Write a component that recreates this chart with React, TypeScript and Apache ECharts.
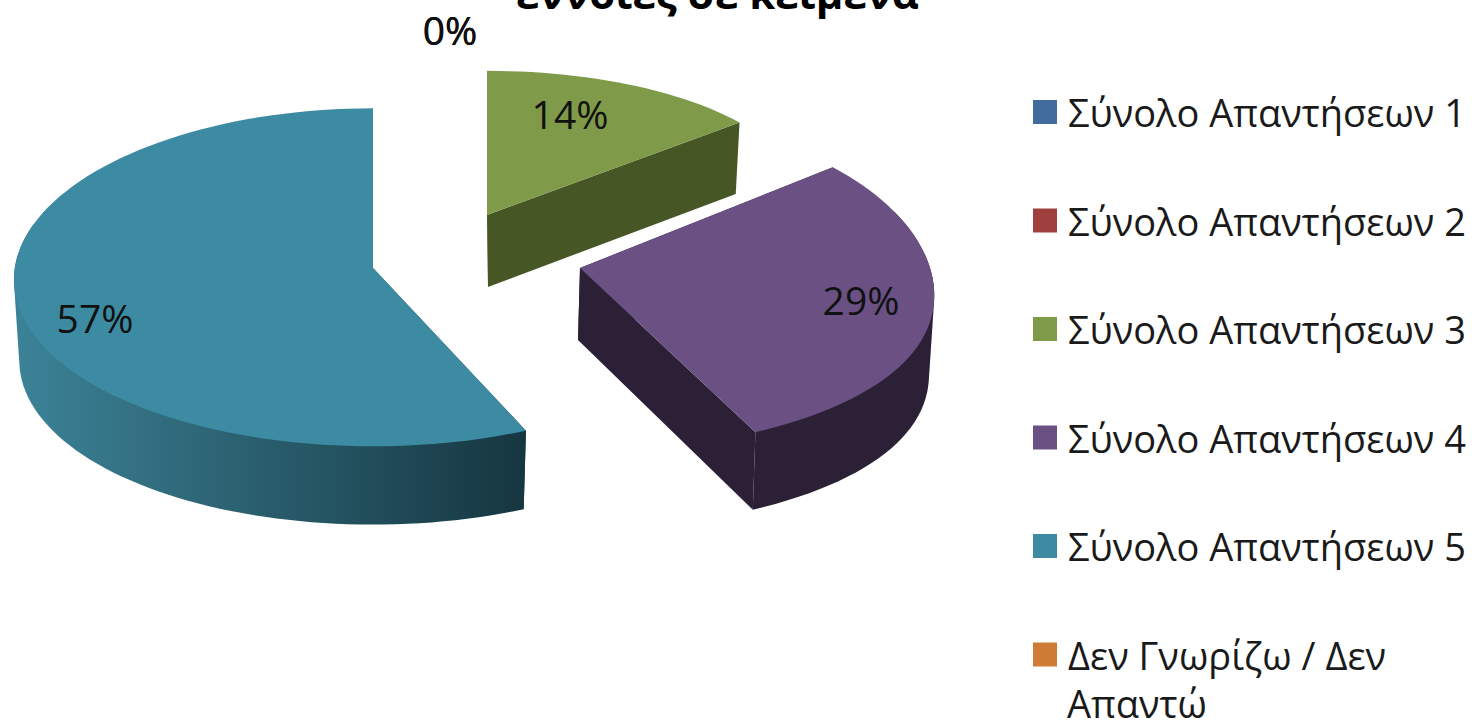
import React, { useEffect, useRef } from "react";
import * as echarts from "echarts";

const categories = [
  "Σύνολο Απαντήσεων 1",
  "Σύνολο Απαντήσεων 2",
  "Σύνολο Απαντήσεων 3",
  "Σύνολο Απαντήσεων 4",
  "Σύνολο Απαντήσεων 5",
  "Δεν Γνωρίζω / Δεν Απαντώ",
];
const answers = [0, 0, 1, 2, 4, 0];
const titleText = "έννοιες σε κείμενα";
const legendFirstLine = "Δεν Γνωρίζω / Δεν";
const legendSecondLine = "Απαντώ";

const topColors = ["#426b9e", "#a0403e", "#7f9a48", "#6a5083", "#3c8ba3", "#cf7d36"];
const FONT = "'Open Sans', sans-serif";

// Projection of each exploded slice: apex, radii, perspective and wall depth.
const sliceLayouts = [
  { cx: 486, cy: 215, rx: 323, ry: 155, kx: 0, ky: 0.07, s: 0, bx: 0, depth: 70, apexDepth: 72, apexDx: 1, label: [450, 29] },
  { cx: 486, cy: 215, rx: 323, ry: 155, kx: 0, ky: 0.07, s: 0, bx: 0, depth: 70, apexDepth: 72, apexDx: 1, label: [450, 29] },
  { cx: 487, cy: 215, rx: 323, ry: 155, kx: 0, ky: 0.07, s: 0, bx: 0, depth: 70, apexDepth: 72, apexDx: 1, label: [570, 113] },
  { cx: 580, cy: 268, rx: 350, ry: 170, kx: 0.15, ky: 0.08, s: 0, bx: 5, depth: 80, apexDepth: 72, apexDx: -2, label: [861, 299] },
  { cx: 373, cy: 268, rx: 359, ry: 169, kx: -0.02, ky: 0.055, s: 15, bx: 0, depth: 81, apexDepth: 72, apexDx: 0, label: [95, 317] },
  { cx: 486, cy: 215, rx: 323, ry: 155, kx: 0, ky: 0.07, s: 0, bx: 0, depth: 70, apexDepth: 72, apexDx: 1, label: [450, 29] },
];
const wallFills: any[] = [
  "#2d4a70",
  "#702c2b",
  "#465725",
  "#2b2035",
  {
    type: "linear", x: 0, y: 0, x2: 1, y2: 0,
    colorStops: [
      { offset: 0, color: "#3c8398" },
      { offset: 1, color: "#163640" },
    ],
  },
  "#8f5725",
];
const radialFills = ["#2d4a70", "#702c2b", "#465725", "#2b2035", "#163640", "#8f5725"];

const total = answers.reduce((a, b) => a + b, 0);
const RIM_SCALE = 0.985;
const FRONT_FROM = 70;
const FRONT_TO = 290;

function project(l: any, deg: number, scale = 1, drop = 0) {
  const t = (deg * Math.PI) / 180;
  const sin = Math.sin(t);
  const cos = Math.cos(t);
  const sin2 = Math.sin(2 * t);
  return [
    l.cx + scale * (l.rx * sin * (1 - l.kx * cos) + Math.sign(sin) * l.bx * sin2 * sin2),
    l.cy + drop + scale * (-l.ry * cos * (1 - l.ky * cos) + l.s * sin * sin),
  ];
}

function arc(l: any, from: number, to: number, scale = 1, drop = 0) {
  const pts: number[][] = [];
  const n = Math.max(1, Math.ceil((to - from) / 2));
  for (let i = 0; i <= n; i++) pts.push(project(l, from + ((to - from) * i) / n, scale, drop));
  return pts;
}

// Outline of a rim swept downwards, so that the wall's silhouette stays straight.
function hull(points: number[][]) {
  const p = points.slice().sort((a, b) => a[0] - b[0] || a[1] - b[1]);
  const cross = (o: number[], a: number[], b: number[]) =>
    (a[0] - o[0]) * (b[1] - o[1]) - (a[1] - o[1]) * (b[0] - o[0]);
  const build = (list: number[][]) => {
    const out: number[][] = [];
    for (const q of list) {
      while (out.length >= 2 && cross(out[out.length - 2], out[out.length - 1], q) <= 0) out.pop();
      out.push(q);
    }
    out.pop();
    return out;
  };
  return build(p).concat(build(p.slice().reverse()));
}

function renderSlice(params: any, api: any) {
  const i = params.seriesIndex;
  const value = api.value(0);
  const before = answers.slice(0, i).reduce((a, b) => a + b, 0);
  const start = (before / total) * 360;
  const end = ((before + value) / total) * 360;
  const l = sliceLayouts[i];
  const children: any[] = [];
  if (value > 0) {
    const apex = [l.cx, l.cy];
    const apexLow = [l.cx + l.apexDx, l.cy + l.apexDepth];
    const upper = arc(l, start, end);
    const radial = (deg: number) => ({
      type: "polygon",
      shape: { points: [apex, project(l, deg), project(l, deg, RIM_SCALE, l.depth), apexLow] },
      style: { fill: radialFills[i] },
    });
    children.push(radial(start), radial(end));
    const from = Math.max(start, FRONT_FROM);
    const to = Math.min(end, FRONT_TO);
    if (to > from) {
      const wall = hull(arc(l, from, to).concat(arc(l, from, to, RIM_SCALE, l.depth)));
      children.push({ type: "polygon", shape: { points: wall }, style: { fill: wallFills[i] } });
    }
    children.push({
      type: "polygon",
      shape: { points: [apex].concat(upper) },
      style: { fill: topColors[i] },
    });
  }
  children.push({
    type: "text",
    style: {
      x: l.label[0],
      y: l.label[1],
      text: `${Math.round((value / total) * 100)}%`,
      fill: "#111",
      font: `39px ${FONT}`,
      textAlign: "center",
      textVerticalAlign: "middle",
    },
  });
  return { type: "group", children };
}

export default function App() {
  const ref = useRef<HTMLDivElement>(null);
  useEffect(() => {
    document.body.style.margin = "0";
    const chart = echarts.init(ref.current!, undefined, { renderer: "svg" });
    chart.setOption({
      animation: false,
      backgroundColor: "#ffffff",
      legend: {
        orient: "vertical",
        left: 1028,
        top: 87,
        itemWidth: 24,
        itemHeight: 24,
        itemGap: 68.5,
        icon: "rect",
        selectedMode: false,
        data: categories,
        formatter: (n: string) => (n === categories[5] ? legendFirstLine : n),
        textStyle: { fontFamily: FONT, fontSize: 38, color: "#1a1a1a", lineHeight: 40, padding: [0, 0, 0, 6] },
      },
      graphic: [
        {
          type: "text",
          left: 516,
          top: -29,
          style: { text: titleText, font: `bold 42px ${FONT}`, fill: "#000" },
        },
        {
          type: "text",
          left: 1067,
          top: 684,
          style: { text: legendSecondLine, font: `38px ${FONT}`, fill: "#1a1a1a", lineHeight: 38 },
        },
      ],
      series: categories.map((name, i) => ({
        type: "custom",
        name,
        coordinateSystem: "none",
        renderItem: renderSlice,
        clip: false,
        itemStyle: { color: topColors[i] },
        data: [[answers[i]]],
      })),
    });
    return () => chart.dispose();
  }, []);
  return <div ref={ref} style={{ position: "fixed", left: 0, top: 0, width: 1472, height: 722 }} />;
}
